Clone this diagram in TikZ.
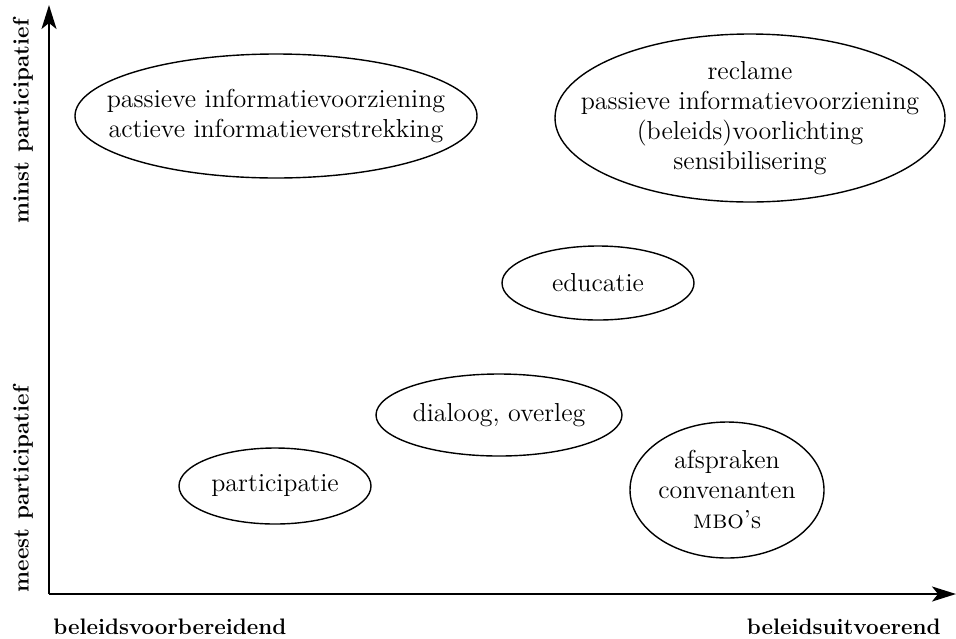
\documentclass[tikz,border=0pt]{standalone}
\usetikzlibrary{arrows.meta}
\begin{document}
\begin{tikzpicture}[x=0.5pt,y=-0.5pt,
    tekst/.style={align=center, inner sep=0pt,
      font=\fontsize{13}{15}\selectfont},
    rand/.style={line width=0.7pt},
    as/.style={line width=1pt, -{Stealth[length=12pt,width=7.5pt,inset=3pt]}},
    aslabel/.style={inner sep=0pt, font=\fontsize{11.2}{14}\selectfont\bfseries}]

  % ---- canvas (pixel grid 956 x 638, y down) ----
  \useasboundingbox (0,0) rectangle (956,638);

  % ---- axes ----
  \coordinate (origin) at (49,594);
  \coordinate (ytip)   at (49,5);
  \coordinate (xtip)   at (956,594);
  \draw[as] (origin) -- (ytip);
  \draw[as] (origin) -- (xtip);

  % ---- axis labels ----
  \node[aslabel, rotate=90] (minst) at (23,121) {minst participatief};
  \node[aslabel, rotate=90] (meest) at (23,489) {meest participatief};
  \node[aslabel, anchor=base west] (voor) at (53,634) {beleidsvoorbereidend};
  \node[aslabel, anchor=base east] (uit)  at (941,634) {beleidsuitvoerend};

  % ---- instruments: text, then ellipse round it ----
  \node[tekst] (passief) at (276,116)
    {passieve informatievoorziening\\actieve informatieverstrekking};
  \draw[rand] (passief.center) ellipse [x radius=201, y radius=62];

  \node[tekst] (voorlichting) at (750,118)
    {reclame\\passieve informatievoorziening\\(beleids)voorlichting\\sensibilisering};
  \draw[rand] (voorlichting.center) ellipse [x radius=195, y radius=84];

  \node[tekst] (educatie) at (598,283) {educatie};
  \draw[rand] (educatie.center) ellipse [x radius=96, y radius=37];

  \node[tekst] (dialoog) at (499,415) {dialoog, overleg};
  \draw[rand] (dialoog.center) ellipse [x radius=123, y radius=41];

  \node[tekst] (participatie) at (275,486) {participatie};
  \draw[rand] (participatie.center) ellipse [x radius=96, y radius=38];

  \node[tekst] (afspraken) at (727,490) {afspraken\\convenanten\\\textsc{mbo}’s};
  \draw[rand] (afspraken.center) ellipse [x radius=97, y radius=68];

\end{tikzpicture}
\end{document}
